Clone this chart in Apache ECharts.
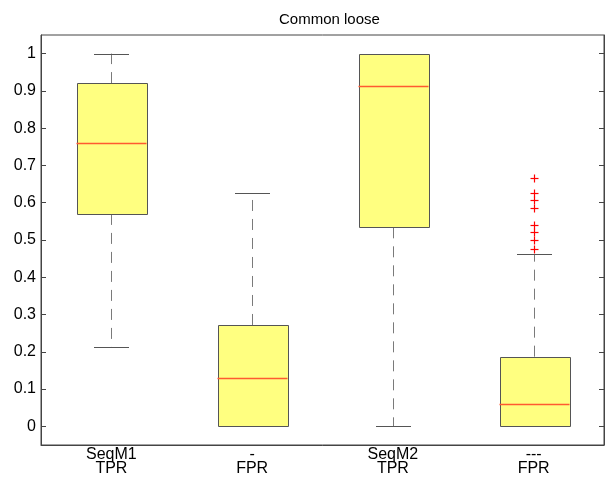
<!DOCTYPE html>
<html>
<head>
<meta charset="utf-8">
<script src="https://cdn.jsdelivr.net/npm/echarts@6/dist/echarts.min.js"></script>
<style>html,body{margin:0;padding:0;background:#fff;}#c{width:616px;height:483px;}</style>
</head>
<body>
<div id="c"></div>
<script>
var categories = ['SeqM1\nTPR', '-\nFPR', 'SeqM2\nTPR', '---\nFPR'];
var lowerWhisker = [0.213, 0.0, 0.0, 0.0];
var q1 = [0.570, 0.0, 0.534, 0.0];
var median = [0.760, 0.130, 0.912, 0.060];
var q3 = [0.921, 0.272, 1.0, 0.187];
var upperWhisker = [1.0, 0.626, 1.0, 0.462];
var outlierCategory = 3;
var outlierValues = [0.667, 0.626, 0.608, 0.587, 0.541, 0.521, 0.500, 0.476];
var yTicks = [0, 0.1, 0.2, 0.3, 0.4, 0.5, 0.6, 0.7, 0.8, 0.9, 1];

var boxData = categories.map(function (c, i) {
  return [i, lowerWhisker[i], q1[i], median[i], q3[i], upperWhisker[i]];
});
var outlierData = outlierValues.map(function (v) { return [outlierCategory, v]; });

var FONT = 'Liberation Sans, Arial, Helvetica, sans-serif';
var chart = echarts.init(document.getElementById('c'), null, {renderer: 'canvas'});

function px(v) { return Math.round(v) + 0.5; }

function renderBox(params, api) {
  var idx = api.value(0);
  var half = 35, capHalf = 17.5;
  var pLw = api.coord([idx, api.value(1)]);
  var pQ1 = api.coord([idx, api.value(2)]);
  var pMed = api.coord([idx, api.value(3)]);
  var pQ3 = api.coord([idx, api.value(4)]);
  var pUw = api.coord([idx, api.value(5)]);
  var cx = px(pQ1[0]);
  var edge = '#555555';
  var whisk = '#7a7a7a';
  var children = [];
  if (pUw[1] < pQ3[1] - 0.5) {
    children.push({type: 'line', shape: {x1: cx, y1: pQ3[1], x2: cx, y2: pUw[1]},
      style: {stroke: whisk, lineWidth: 1, lineDash: [11, 8], fill: null}});
  }
  if (pLw[1] > pQ1[1] + 0.5) {
    children.push({type: 'line', shape: {x1: cx, y1: pQ1[1], x2: cx, y2: pLw[1]},
      style: {stroke: whisk, lineWidth: 1, lineDash: [11, 8], fill: null}});
  }
  children.push({type: 'rect', shape: {x: px(cx - half), y: px(pQ3[1]), width: half * 2, height: Math.round(pQ1[1]) - Math.round(pQ3[1])},
    style: {fill: '#ffff80', stroke: edge, lineWidth: 1}});
  children.push({type: 'line', shape: {x1: cx - half, y1: px(pMed[1]), x2: cx + half, y2: px(pMed[1])},
    style: {stroke: '#ff5a30', lineWidth: 1.3}});
  children.push({type: 'line', shape: {x1: cx - capHalf, y1: px(pUw[1]), x2: cx + capHalf, y2: px(pUw[1])},
    style: {stroke: edge, lineWidth: 1}});
  children.push({type: 'line', shape: {x1: cx - capHalf, y1: px(pLw[1]), x2: cx + capHalf, y2: px(pLw[1])},
    style: {stroke: edge, lineWidth: 1}});
  return {type: 'group', children: children};
}

function renderOutlier(params, api) {
  var p = api.coord([api.value(0), api.value(1)]);
  var x = px(p[0]), y = px(p[1]), h = 4;
  return {type: 'group', children: [
    {type: 'line', shape: {x1: x - h, y1: y, x2: x + h, y2: y}, style: {stroke: '#ff0000', lineWidth: 1.2}},
    {type: 'line', shape: {x1: x, y1: y - h, x2: x, y2: y + h}, style: {stroke: '#ff0000', lineWidth: 1.2}}
  ]};
}

var yCommon = {
  type: 'value', min: -0.05, max: 1.05,
  splitLine: {show: false},
  axisLine: {show: true, onZero: false, lineStyle: {color: '#444'}}
};

chart.setOption({
  animation: false,
  backgroundColor: '#ffffff',
  title: {
    text: 'Common loose', left: 274, top: 7,
    textStyle: {fontFamily: FONT, fontSize: 15, fontWeight: 'normal', color: '#000'}
  },
  grid: {left: 41, right: 12, top: 35, bottom: 38, show: true, borderColor: '#444', borderWidth: 1, backgroundColor: 'transparent'},
  xAxis: {
    type: 'category', data: categories,
    axisLine: {show: true, onZero: false, lineStyle: {color: '#444'}},
    axisTick: {show: false},
    axisLabel: {color: '#000', fontFamily: FONT, fontSize: 16, lineHeight: 14, margin: 3, interval: 0}
  },
  yAxis: [
    Object.assign({}, yCommon, {
      position: 'left',
      axisTick: {show: true, inside: true, length: 5, lineStyle: {color: '#444'}, customValues: yTicks},
      axisLabel: {color: '#000', fontFamily: FONT, fontSize: 16, margin: 5, customValues: yTicks,
        formatter: function (v) { return String(Math.round(v * 10) / 10); }}
    }),
    Object.assign({}, yCommon, {
      position: 'right',
      axisTick: {show: true, inside: true, length: 5, lineStyle: {color: '#444'}, customValues: yTicks},
      axisLabel: {show: false}
    })
  ],
  series: [
    {type: 'custom', name: 'box', renderItem: renderBox, data: boxData,
      encode: {x: 0, y: [1, 2, 3, 4, 5]}, clip: false, z: 2},
    {type: 'custom', name: 'outliers', renderItem: renderOutlier, data: outlierData,
      encode: {x: 0, y: 1}, z: 3}
  ]
});
</script>
</body>
</html>
